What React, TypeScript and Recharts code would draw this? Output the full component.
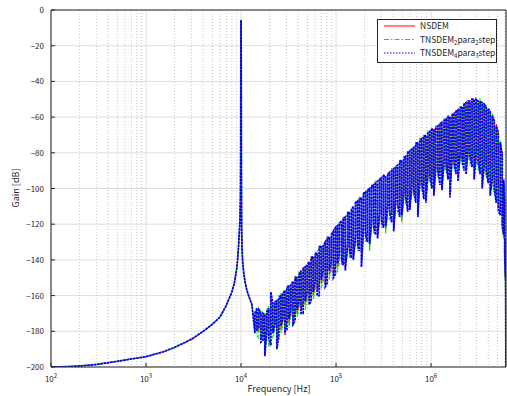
import { LineChart, Line, XAxis, YAxis, CartesianGrid, ReferenceLine, Legend } from "recharts"

// smooth part, shared by all three filters (resonance at 10 kHz)
const lowFreq = [100, 150, 200, 300, 500, 700, 1000, 1500, 2000, 3000, 4000, 5000, 6000, 7000, 8000, 8500, 9000, 9200, 9400, 9600, 9750, 9850, 9920, 9960, 10000, 10040, 10080, 10150, 10250, 10400, 10700, 11000, 11500, 12200, 13000]
const lowGain = [-200, -199.8, -199.4, -198.6, -196.8, -195.5, -194.2, -191.6, -189, -184.5, -180, -176, -172, -165.5, -158, -153, -145, -140, -133, -124, -117, -105, -70, -30, -5.6, -30, -80, -122, -133, -141, -148, -152, -157, -161, -165]

// noise-shaped part: each bin is drawn from its first value to its second
const noiseFreq = [
  14000, 14700, 15400, 16200, 17000, 17800, 18700, 19600, 20600, 21600,
  22700, 23800, 25000, 26300, 27600, 29000, 30400, 31900, 33500, 35200,
  37000, 38800, 40800, 42800, 45000, 47200, 49600, 52100, 54700, 57400,
  60300, 63300, 66500, 69800, 73300, 77000, 80800, 84900, 89100, 93600,
  98300, 103000, 108000, 114000, 119000, 125000, 132000, 138000, 145000, 152000,
  160000, 168000, 176000, 185000, 194000, 204000, 214000, 225000, 236000, 248000,
  260000, 273000, 287000, 301000, 316000, 332000, 349000, 366000, 385000, 404000,
  424000, 445000, 468000, 491000, 516000, 541000, 568000, 597000, 627000, 658000,
  691000, 726000, 762000, 800000, 840000, 882000, 926000, 972000, 1020000, 1070000,
  1120000, 1180000, 1240000, 1300000, 1370000, 1440000, 1510000, 1580000, 1660000, 1740000,
  1830000, 1920000, 2020000, 2120000, 2220000, 2330000, 2450000, 2570000, 2700000, 2840000,
  2980000, 3130000, 3280000, 3450000, 3620000, 3800000, 3990000, 4190000, 4400000, 4620000,
  4850000, 5090000, 5350000, 5610000, 5800000, 5950000, 6060000, 6144000,
]

const nsdemA = [
  -178, -169, -180, -170, -183, -170, -181, -168, -180, -165,
  -178, -163, -177, -161, -174, -158, -174, -156, -170, -153,
  -168, -150, -165, -148, -164, -145, -161, -142, -158, -140,
  -155, -137, -153, -134, -150, -131, -148, -129, -145, -126,
  -143, -123, -140, -120, -138, -117, -135, -115, -133, -112,
  -130, -109, -129, -106, -126, -104, -124, -101, -122, -99,
  -120, -98, -118, -96, -116, -94, -114, -92, -113, -90,
  -110, -88, -109, -86, -106, -83, -104, -81, -102, -78,
  -100, -76, -98, -74, -96, -72, -95, -70, -93, -68,
  -90, -66, -89, -64, -87, -62, -86, -61, -85, -59,
  -84, -57, -83, -55, -82, -54, -82, -52, -82, -51,
  -83, -51, -85, -52, -88, -55, -92, -58, -97, -62,
  -103, -68, -112, -80, -125, -107, -152, -200,
]
const nsdemB = [
  -169, -180, -170, -184, -171, -190, -170, -182, -163, -179,
  -163, -186, -162, -179, -160, -182, -155, -175, -155, -177,
  -149, -170, -149, -168, -144, -165, -144, -163, -138, -160,
  -138, -158, -132, -153, -133, -154, -127, -148, -127, -149,
  -121, -144, -121, -141, -116, -144, -113, -136, -113, -138,
  -107, -133, -107, -141, -102, -128, -102, -133, -98, -123,
  -98, -126, -94, -120, -92, -123, -93, -115, -91, -122,
  -89, -111, -84, -117, -84, -107, -79, -110, -79, -103,
  -74, -114, -74, -99, -70, -106, -70, -95, -66, -102,
  -67, -92, -63, -99, -63, -89, -59, -103, -60, -87,
  -56, -94, -56, -85, -52, -90, -52, -84, -50, -93,
  -50, -87, -52, -98, -52, -92, -56, -102, -60, -102,
  -64, -110, -75, -122, -96, -134, -135, -200,
]

const tnsdem2A = [
  -180, -168, -184, -169, -181, -170, -186, -166, -183, -165,
  -179, -162, -180, -159, -176, -158, -175, -155, -172, -153,
  -170, -149, -168, -147, -164, -145, -163, -142, -159, -139,
  -157, -135, -155, -133, -152, -131, -150, -128, -146, -125,
  -145, -122, -142, -119, -140, -117, -137, -114, -134, -111,
  -132, -108, -131, -106, -128, -103, -126, -101, -124, -99,
  -122, -97, -120, -95, -118, -94, -117, -92, -115, -90,
  -112, -88, -111, -85, -108, -83, -106, -80, -104, -78,
  -103, -75, -100, -73, -99, -71, -96, -69, -95, -68,
  -92, -66, -91, -64, -89, -62, -88, -61, -87, -59,
  -86, -57, -85, -55, -84, -53, -83, -52, -84, -51,
  -86, -50, -88, -52, -90, -54, -94, -57, -100, -61,
  -105, -68, -113, -80, -128, -106, -155, -200,
]
const tnsdem2B = [
  -171, -182, -167, -183, -172, -188, -168, -189, -161, -184,
  -165, -184, -160, -181, -158, -178, -157, -178, -153, -174,
  -151, -172, -147, -167, -146, -168, -142, -162, -140, -162,
  -136, -157, -134, -156, -131, -152, -129, -151, -125, -147,
  -123, -147, -119, -143, -118, -142, -115, -139, -111, -136,
  -109, -135, -105, -138, -104, -130, -100, -135, -100, -125,
  -96, -123, -96, -122, -94, -125, -91, -117, -89, -120,
  -87, -113, -86, -119, -82, -109, -81, -108, -77, -105,
  -76, -112, -72, -101, -72, -104, -68, -97, -68, -100,
  -65, -94, -65, -97, -61, -91, -61, -101, -58, -89,
  -58, -92, -54, -87, -54, -88, -52, -86, -51, -91,
  -51, -89, -50, -96, -54, -94, -56, -100, -58, -104,
  -66, -108, -73, -124, -97, -132, -140, -200,
]

const tnsdem4A = [
  -181, -167, -178, -170, -185, -171, -179, -167, -188, -164,
  -176, -163, -183, -160, -172, -157, -179, -154, -168, -152,
  -174, -150, -163, -146, -170, -144, -158, -141, -163, -138,
  -152, -136, -160, -132, -146, -130, -153, -127, -141, -124,
  -148, -121, -136, -118, -143, -116, -131, -113, -139, -110,
  -127, -107, -135, -105, -122, -102, -130, -100, -118, -98,
  -126, -96, -114, -94, -122, -93, -110, -91, -119, -89,
  -106, -87, -116, -84, -102, -82, -113, -79, -98, -77,
  -108, -74, -94, -72, -106, -70, -90, -68, -100, -67,
  -88, -65, -98, -63, -84, -61, -95, -60, -82, -58,
  -92, -56, -80, -54, -90, -52, -78, -51, -88, -50,
  -80, -51, -92, -52, -86, -54, -97, -57, -94, -62,
  -108, -69, -115, -82, -126, -108, -150, -200,
]
const tnsdem4B = [
  -170, -179, -168, -186, -170, -194, -169, -184, -158, -181,
  -164, -190, -161, -177, -159, -180, -156, -173, -154, -176,
  -150, -168, -148, -170, -145, -163, -143, -165, -139, -158,
  -137, -160, -133, -151, -132, -155, -128, -146, -126, -150,
  -122, -142, -120, -139, -117, -146, -114, -134, -112, -140,
  -108, -131, -106, -144, -103, -126, -101, -131, -99, -121,
  -97, -128, -95, -118, -93, -121, -92, -113, -90, -124,
  -88, -109, -85, -115, -83, -105, -80, -112, -78, -101,
  -75, -116, -73, -97, -71, -108, -69, -93, -67, -104,
  -66, -90, -64, -101, -62, -87, -60, -105, -59, -85,
  -57, -96, -55, -83, -53, -92, -51, -82, -50, -95,
  -50, -85, -51, -100, -53, -90, -55, -104, -59, -100,
  -65, -112, -74, -120, -95, -136, -128, -200,
]

const majorTicks = [100, 1000, 10000, 100000, 1000000]
const minorTicks = [
  200, 300, 400, 500, 600, 700, 800, 900,
  2000, 3000, 4000, 5000, 6000, 7000, 8000, 9000,
  20000, 30000, 40000, 50000, 60000, 70000, 80000, 90000,
  200000, 300000, 400000, 500000, 600000, 700000, 800000, 900000,
  2000000, 3000000, 4000000, 5000000, 6000000,
]
const gainTicks = [-200, -180, -160, -140, -120, -100, -80, -60, -40, -20, 0]
const fMax = 6144000

const data = [
  ...lowFreq.map((f, i) => ({ f, r: lowGain[i], g: lowGain[i], b: lowGain[i] })),
  ...noiseFreq.flatMap((f, i) => [
    { f, r: nsdemA[i], g: tnsdem2A[i], b: tnsdem4A[i] },
    { f, r: nsdemB[i], g: tnsdem2B[i], b: tnsdem4B[i] },
  ]),
]

const font = "'Noto Sans CJK JP', 'Noto Sans', sans-serif"
const ink = "#262626"
const red = "#ff0000"
const green = "#00e600"
const blue = "#0000ff"

const XTick = ({ x, y, payload }: any) => (
  <g>
    <line x1={x} x2={x} y1={y} y2={y - 4} stroke={ink} />
    <text x={x} y={y + 15} textAnchor="middle" fontSize={8} fill={ink} fontFamily={font}>
      10<tspan dy={-4} fontSize={6}>{Math.round(Math.log10(payload.value))}</tspan>
    </text>
  </g>
)

const MinorTick = ({ x, y }: any) => <line x1={x} x2={x} y1={y} y2={y - 2} stroke={ink} />

const YTick = ({ x, y, payload }: any) => (
  <g>
    <line x1={x} x2={x + 4} y1={y} y2={y} stroke={ink} />
    <text x={x - 7} y={y + 3} textAnchor="end" fontSize={8} fill={ink} fontFamily={font}>
      {payload.value === 0 ? "0" : `\u2212${Math.abs(payload.value)}`}
    </text>
  </g>
)

const LegendBox = () => (
  <svg width={120} height={44} style={{ display: "block" }}>
    <rect x={0.5} y={0.5} width={119} height={43} fill="#fff" stroke={ink} />
    <line x1={7} x2={38} y1={7} y2={7} stroke={red} />
    <line x1={7} x2={38} y1={20.5} y2={20.5} stroke={green} strokeDasharray="5 2 1.5 2" />
    <line x1={7} x2={38} y1={34} y2={34} stroke={blue} strokeDasharray="1.5 1.5" />
    <g fontSize={8.5} fill={ink} fontFamily={font}>
      <text x={43} y={10}>NSDEM</text>
      <text x={43} y={23.5}>
        TNSDEM<tspan fontSize={6} dy={2}>2</tspan><tspan dy={-2}>para</tspan><tspan fontSize={6} dy={2}>2</tspan><tspan dy={-2}>step</tspan>
      </text>
      <text x={43} y={37}>
        TNSDEM<tspan fontSize={6} dy={2}>4</tspan><tspan dy={-2}>para</tspan><tspan fontSize={6} dy={2}>3</tspan><tspan dy={-2}>step</tspan>
      </text>
    </g>
  </svg>
)

export default function App() {
  return (
    <div style={{ position: "fixed", left: 0, top: 0, background: "#fff" }}>
      <LineChart width={507} height={396} data={data} margin={{ top: 10, right: 1, bottom: 0, left: 0 }}>
        <CartesianGrid stroke="#dedede" />
        <CartesianGrid xAxisId="minor" horizontal={false} stroke="#c4c4c4" strokeDasharray="1 2" />
        <XAxis
          xAxisId="minor"
          dataKey="f"
          type="number"
          scale="log"
          domain={[100, fMax]}
          allowDataOverflow
          ticks={minorTicks}
          interval={0}
          height={0}
          axisLine={false}
          tickLine={false}
          tickSize={0}
          tickMargin={0}
          tick={<MinorTick />}
        />
        <XAxis
          dataKey="f"
          type="number"
          scale="log"
          domain={[100, fMax]}
          allowDataOverflow
          ticks={majorTicks}
          interval={0}
          height={29}
          stroke={ink}
          tickLine={false}
          tickSize={0}
          tickMargin={0}
          tick={<XTick />}
          label={{
            content: () => (
              <text x={279} y={392} textAnchor="middle" fontSize={9} fill={ink} fontFamily={font}>
                Frequency [Hz]
              </text>
            ),
          }}
        />
        <YAxis
          type="number"
          domain={[-200, 0]}
          allowDataOverflow
          ticks={gainTicks}
          interval={0}
          width={51}
          stroke={ink}
          tickLine={false}
          tickSize={0}
          tickMargin={0}
          tick={<YTick />}
          label={{
            content: () => (
              <text x={19} y={188} transform="rotate(-90 19 188)" textAnchor="middle" fontSize={9} fill={ink} fontFamily={font}>
                Gain [dB]
              </text>
            ),
          }}
        />
        <Line dataKey="r" stroke={red} strokeWidth={1} dot={false} isAnimationActive={false} />
        <Line dataKey="g" stroke={green} strokeWidth={1.2} strokeDasharray="4 1.5 1.5 1.5" dot={false} isAnimationActive={false} />
        <Line dataKey="b" stroke={blue} strokeWidth={1.8} strokeDasharray="2.5 0.8" dot={false} isAnimationActive={false} />
        <ReferenceLine y={0} stroke={ink} />
        <ReferenceLine x={fMax} stroke={ink} />
        <Legend
          layout="horizontal"
          verticalAlign="middle"
          align="center"
          content={<LegendBox />}
          wrapperStyle={{ position: "absolute", left: 377, top: 19, width: 120, height: 44 }}
        />
      </LineChart>
    </div>
  )
}
